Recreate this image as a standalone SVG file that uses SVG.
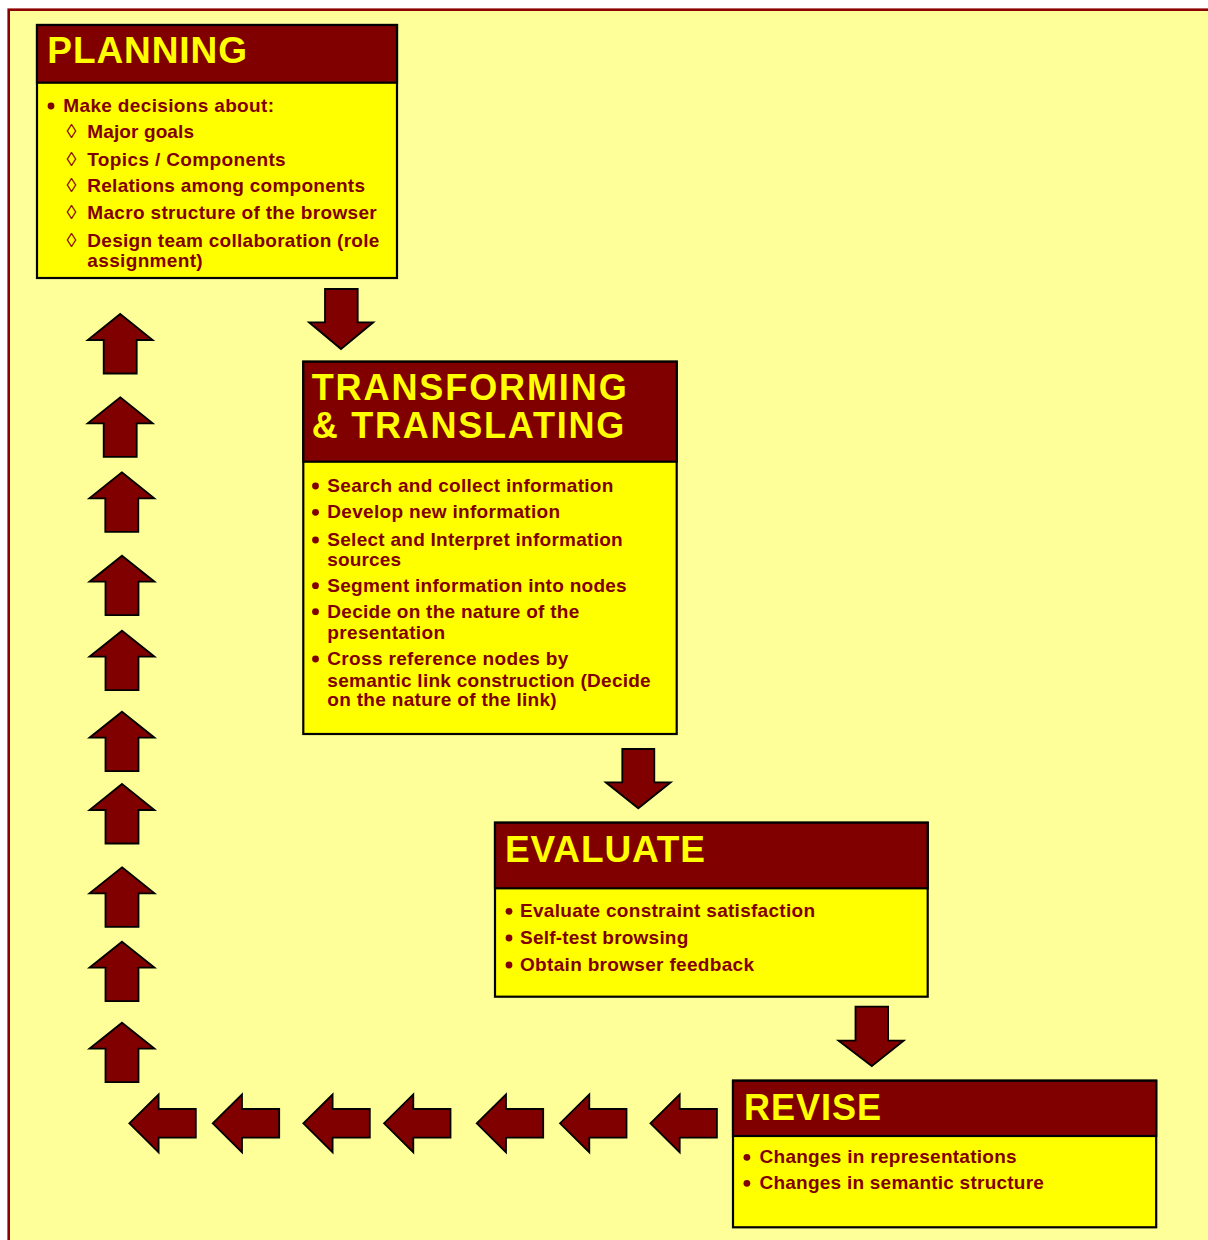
<svg xmlns="http://www.w3.org/2000/svg" xmlns:xlink="http://www.w3.org/1999/xlink" width="1208" height="1240" viewBox="0 0 1208 1240">
  <style>
    .frame { fill: #FFFF99; stroke: #8B0000; stroke-width: 2.6; }
    .head { fill: #800000; stroke: #000; stroke-width: 2.2; }
    .body { fill: #FFFF00; stroke: #000; stroke-width: 2.2; }
    .title { font-family: "Liberation Sans", Arial, Helvetica, sans-serif; font-weight: bold; fill: #FFFF00; }
    .item { font-family: "Liberation Sans", Arial, Helvetica, sans-serif; font-weight: bold; font-size: 19px; fill: #800000; }
    .dia { font-family: "Liberation Sans", Arial, sans-serif; font-size: 20px; fill: #800000; }
    .dot { fill: #800000; }
    .arrow { fill: #800000; stroke: #000; stroke-width: 1.8; stroke-linejoin: miter; }
  </style>
  <defs>
    <path id="upArrow" d="M0,0 L32.5,26 L16.5,26 L16.5,59.5 L-16.5,59.5 L-16.5,26 L-32.5,26 Z"/>
    <path id="leftArrow" d="M0,0 L29.3,-29 L29.3,-14.3 L66.5,-14.3 L66.5,14.3 L29.3,14.3 L29.3,29 Z"/>
  </defs>

  <!-- page -->
  <rect x="0" y="0" width="1208" height="1240" fill="#FFFFFF"/>
  <rect class="frame" x="8.7" y="9.7" width="1300" height="1300"/>

  <!-- PLANNING -->
  <g id="planning">
    <rect class="body" x="37" y="25" width="360" height="253"/>
    <rect class="head" x="37" y="25" width="360" height="57.7"/>
    <text class="title" x="47.3" y="63" font-size="37" textLength="199.7" lengthAdjust="spacing">PLANNING</text>
    <circle class="dot" cx="51" cy="106" r="3.4"/>
    <text class="item" x="63.3" y="112" textLength="210.7" lengthAdjust="spacing">Make decisions about:</text>
    <text class="dia" x="66.5" y="138">◊</text>
    <text class="item" x="87.3" y="138" textLength="106.7" lengthAdjust="spacing">Major goals</text>
    <text class="dia" x="66.5" y="166">◊</text>
    <text class="item" x="87.3" y="166" textLength="198.4" lengthAdjust="spacing">Topics / Components</text>
    <text class="dia" x="66.5" y="192">◊</text>
    <text class="item" x="87.3" y="192" textLength="277.7" lengthAdjust="spacing">Relations among components</text>
    <text class="dia" x="66.5" y="218.5">◊</text>
    <text class="item" x="87.3" y="218.5" textLength="289.4" lengthAdjust="spacing">Macro structure of the browser</text>
    <text class="dia" x="66.5" y="246.7">◊</text>
    <text class="item" x="87.3" y="246.7" textLength="292" lengthAdjust="spacing">Design team collaboration (role</text>
    <text class="item" x="87.3" y="267" textLength="115.4" lengthAdjust="spacing">assignment)</text>
  </g>

  <!-- TRANSFORMING & TRANSLATING -->
  <g id="transforming">
    <rect class="body" x="303.3" y="361.7" width="373.4" height="372.3"/>
    <rect class="head" x="303.3" y="361.7" width="373.4" height="100"/>
    <text class="title" x="311.7" y="400" font-size="36" textLength="315" lengthAdjust="spacing">TRANSFORMING</text>
    <text class="title" x="311.7" y="438.3" font-size="36" textLength="312.6" lengthAdjust="spacing">&amp; TRANSLATING</text>
    <circle class="dot" cx="315.5" cy="486" r="3.4"/>
    <text class="item" x="327.3" y="492" textLength="286" lengthAdjust="spacing">Search and collect information</text>
    <circle class="dot" cx="315.5" cy="512.3" r="3.4"/>
    <text class="item" x="327.3" y="518.3" textLength="232.7" lengthAdjust="spacing">Develop new information</text>
    <circle class="dot" cx="315.5" cy="540" r="3.4"/>
    <text class="item" x="327.3" y="546" textLength="295.4" lengthAdjust="spacing">Select and Interpret information</text>
    <text class="item" x="327.3" y="565.7" textLength="73.7" lengthAdjust="spacing">sources</text>
    <circle class="dot" cx="315.5" cy="585.7" r="3.4"/>
    <text class="item" x="327.3" y="591.7" textLength="299.4" lengthAdjust="spacing">Segment information into nodes</text>
    <circle class="dot" cx="315.5" cy="611.7" r="3.4"/>
    <text class="item" x="327.3" y="617.7" textLength="252" lengthAdjust="spacing">Decide on the nature of the</text>
    <text class="item" x="327.3" y="639" textLength="117.7" lengthAdjust="spacing">presentation</text>
    <circle class="dot" cx="315.5" cy="659" r="3.4"/>
    <text class="item" x="327.3" y="665" textLength="241" lengthAdjust="spacing">Cross reference nodes by</text>
    <text class="item" x="327.3" y="686.7" textLength="323.4" lengthAdjust="spacing">semantic link construction (Decide</text>
    <text class="item" x="327.3" y="706" textLength="229.4" lengthAdjust="spacing">on the nature of the link)</text>
  </g>

  <!-- EVALUATE -->
  <g id="evaluate">
    <rect class="body" x="495" y="822.7" width="432.7" height="174"/>
    <rect class="head" x="495" y="822.7" width="432.7" height="65.6"/>
    <text class="title" x="505" y="861.7" font-size="37" textLength="200" lengthAdjust="spacing">EVALUATE</text>
    <circle class="dot" cx="509" cy="911.3" r="3.4"/>
    <text class="item" x="520" y="917.3" textLength="295" lengthAdjust="spacing">Evaluate constraint satisfaction</text>
    <circle class="dot" cx="509" cy="938" r="3.4"/>
    <text class="item" x="520" y="944" textLength="168.3" lengthAdjust="spacing">Self-test browsing</text>
    <circle class="dot" cx="509" cy="965" r="3.4"/>
    <text class="item" x="520" y="971" textLength="234" lengthAdjust="spacing">Obtain browser feedback</text>
  </g>

  <!-- REVISE -->
  <g id="revise">
    <rect class="body" x="733" y="1080.7" width="423.2" height="146.6"/>
    <rect class="head" x="733" y="1080.7" width="423.2" height="55.3"/>
    <text class="title" x="744" y="1120" font-size="36" textLength="136.9" lengthAdjust="spacing">REVISE</text>
    <circle class="dot" cx="746.9" cy="1157.3" r="3.4"/>
    <text class="item" x="759.5" y="1163.3" textLength="257.2" lengthAdjust="spacing">Changes in representations</text>
    <circle class="dot" cx="746.9" cy="1183.3" r="3.4"/>
    <text class="item" x="759.5" y="1189.3" textLength="284.4" lengthAdjust="spacing">Changes in semantic structure</text>
  </g>

  <!-- block arrows linking the stages -->
  <g id="connectors">
    <path class="arrow" d="M325,289 L357.7,289 L357.7,322.3 L373.3,322.3 L341,349 L309,322.3 L325,322.3 Z"/>
    <path class="arrow" d="M622.3,749 L654.3,749 L654.3,782.3 L670.7,782.3 L638.3,808.3 L605.7,782.3 L622.3,782.3 Z"/>
    <path class="arrow" d="M855.5,1006.7 L888.1,1006.7 L888.1,1040.7 L903.7,1040.7 L871.8,1066 L838.5,1040.7 L855.5,1040.7 Z"/>

    <!-- return path along the bottom -->
    <use class="arrow" xlink:href="#leftArrow" x="650.4" y="1123.3"/>
    <use class="arrow" xlink:href="#leftArrow" x="560" y="1123.3"/>
    <use class="arrow" xlink:href="#leftArrow" x="476.7" y="1123.3"/>
    <use class="arrow" xlink:href="#leftArrow" x="384" y="1123.3"/>
    <use class="arrow" xlink:href="#leftArrow" x="303.3" y="1123.3"/>
    <use class="arrow" xlink:href="#leftArrow" x="212.7" y="1123.3"/>
    <use class="arrow" xlink:href="#leftArrow" x="129.3" y="1123.3"/>

    <!-- return path up the left side -->
    <use class="arrow" xlink:href="#upArrow" x="122" y="1022.7"/>
    <use class="arrow" xlink:href="#upArrow" x="122" y="941.7"/>
    <use class="arrow" xlink:href="#upArrow" x="122" y="867.3"/>
    <use class="arrow" xlink:href="#upArrow" x="122" y="784"/>
    <use class="arrow" xlink:href="#upArrow" x="122" y="711.7"/>
    <use class="arrow" xlink:href="#upArrow" x="122" y="630.7"/>
    <use class="arrow" xlink:href="#upArrow" x="122" y="555.7"/>
    <use class="arrow" xlink:href="#upArrow" x="121.8" y="472.3"/>
    <use class="arrow" xlink:href="#upArrow" x="120.2" y="397.3"/>
    <use class="arrow" xlink:href="#upArrow" x="120.2" y="314"/>
  </g>
</svg>
